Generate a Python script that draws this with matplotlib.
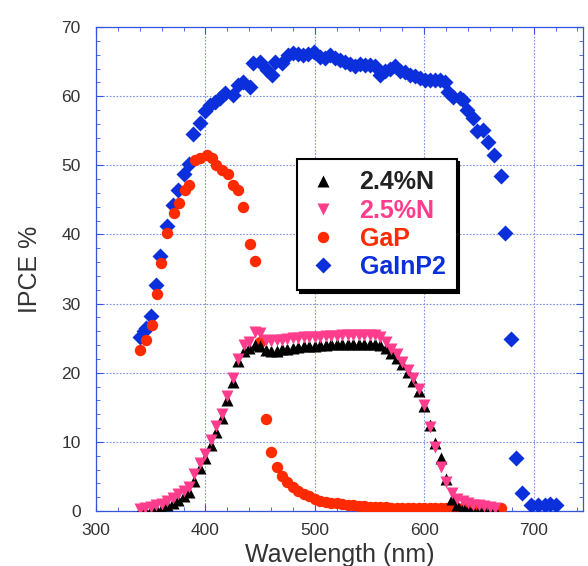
import matplotlib
matplotlib.use("Agg")
import matplotlib.pyplot as plt
from matplotlib.ticker import MultipleLocator

plt.rcParams['font.family'] = ['Liberation Sans', 'DejaVu Sans']

# ---- data ----
wl_n = [340, 345, 350, 355, 360, 365, 370, 375, 380, 385, 390, 395, 400, 405,
        410, 415, 420, 425, 430, 435, 440, 445, 450, 455, 460, 465, 470, 475,
        480, 485, 490, 495, 500, 505, 510, 515, 520, 525, 530, 535, 540, 545,
        550, 555, 560, 565, 570, 575, 580, 585, 590, 595, 600, 605, 610, 615,
        620, 625, 630, 635, 640, 645, 650, 655, 660, 665]
n24 = [0.0, 0.1, 0.2, 0.3, 0.5, 0.8, 1.2, 1.6, 2.1, 2.8, 4.3, 6.2, 7.6, 9.5,
       11.4, 13.5, 16.0, 18.6, 21.7, 23.1, 23.6, 24.0, 23.8, 23.3, 23.1, 23.2, 23.4, 23.5,
       23.6, 23.7, 23.8, 23.9, 23.9, 24.0, 24.0, 24.1, 24.1, 24.1, 24.1, 24.2, 24.2, 24.2,
       24.2, 24.1, 24.0, 23.6, 22.9, 22.2, 21.2, 20.1, 18.8, 17.3, 15.2, 12.5, 9.8, 7.6,
       4.6, 1.8, 0.8, 0.4, 0.3, 0.2, 0.2, 0.1, 0.1, 0.1]
n25 = [0.3, 0.4, 0.6, 0.8, 1.0, 1.4, 1.9, 2.4, 2.9, 3.5, 5.3, 7.0, 8.3, 10.3,
       12.3, 14.0, 16.7, 19.2, 22.0, 24.0, 24.4, 25.9, 25.7, 24.8, 24.6, 24.7, 24.8, 24.9,
       25.0, 25.0, 25.1, 25.1, 25.2, 25.2, 25.3, 25.3, 25.3, 25.4, 25.4, 25.4, 25.4, 25.4,
       25.4, 25.4, 25.1, 24.5, 23.4, 22.7, 21.6, 20.4, 19.2, 17.6, 15.4, 12.2, 9.2, 6.4,
       4.2, 2.6, 1.8, 1.4, 1.1, 0.9, 0.8, 0.7, 0.6, 0.5]

wl_gap = [340, 345.5, 351, 355.5, 359, 365, 371, 376, 381, 385, 390.5, 395, 401,
          405.7, 410, 415, 421, 425.5, 430, 434.6, 440.8, 445.3, 450, 455, 460, 465,
          470, 475, 480, 485, 490, 495, 500, 505, 510, 515, 520, 525, 530, 535, 540,
          545, 550, 555, 560, 565, 570, 575, 580, 585, 590, 595, 600, 605, 610, 615,
          620, 625, 630, 635, 640, 645, 650, 655, 660, 665, 670]
gap = [23.3, 24.7, 26.9, 31.4, 35.8, 40.2, 43.1, 44.6, 46.5, 47.2, 50.8, 51.0, 51.5,
       51.0, 50.0, 49.3, 48.7, 47.2, 46.5, 44.0, 38.6, 36.1, 24.5, 13.3, 8.5, 6.4,
       5.0, 4.2, 3.5, 2.9, 2.4, 2.1, 1.8, 1.5, 1.3, 1.2, 1.1, 1.0, 0.9, 0.8, 0.7,
       0.65, 0.6, 0.6, 0.55, 0.55, 0.5, 0.5, 0.5, 0.5, 0.5, 0.5, 0.5, 0.5, 0.5, 0.5,
       0.5, 0.5, 0.5, 0.5, 0.5, 0.5, 0.5, 0.5, 0.5, 0.5, 0.5]

wl_gainp = [340, 344, 346, 350, 355, 358.5, 365, 370, 375, 380.5, 385, 389, 395,
            399.6, 404, 408.8, 413, 418, 425.5, 430, 434.6, 440.8, 443.8, 450, 456,
            460.6, 463.6, 469.7, 475.8, 480.4, 485, 489.5, 494, 499.3, 504.8, 509.4,
            514, 518.6, 523, 527.7, 532, 537, 541.6, 546, 550.5, 555, 559.6, 564,
            568.7, 573, 578, 582.5, 587, 591.5, 596, 600.5, 605, 609.5, 614.4, 619,
            622, 626.6, 632.7, 635.7, 638.8, 644.8, 648, 654, 658.6, 663.8, 669.9,
            674, 679, 683.6, 689, 698, 704, 710, 715, 720]
gainp = [25.2, 26.0, 26.5, 28.2, 32.7, 36.9, 41.2, 44.3, 46.4, 48.7, 50.2, 54.6, 56.1,
         57.8, 58.7, 59.2, 59.7, 60.5, 60.2, 61.6, 62.1, 61.4, 64.8, 65.0, 63.8,
         63.1, 65.0, 64.8, 66.0, 66.2, 66.1, 66.0, 66.1, 66.4, 65.7, 65.5,
         66.0, 65.5, 65.2, 65.0, 64.7, 64.3, 64.7, 64.5, 64.5, 64.3, 63.1, 63.6,
         64.0, 64.3, 63.7, 63.5, 63.1, 62.9, 62.6, 62.3, 62.3, 62.3, 62.3, 62.1,
         60.6, 59.9, 59.7, 59.4, 58.0, 56.8, 54.9, 55.1, 53.4, 51.5, 48.4,
         40.2, 24.9, 7.6, 2.6, 0.9, 0.9, 0.9, 1.0, 0.9]

labels = ['2.4%N', '2.5%N', 'GaP', 'GaInP2']
colors = ['#000000', '#FF3D8C', '#FF2A00', '#0A2FDB']
text_colors = ['#222222', '#FF3D8C', '#FF2A00', '#0A2FDB']

# ---- figure ----
fig = plt.figure(figsize=(5.88, 5.66), dpi=100)
ax = fig.add_axes([0.1633, 0.0972, 0.828, 0.855])

ax.plot(wl_gainp, gainp, linestyle='none', marker='D', ms=7.8, color=colors[3],
        mec='none', label=labels[3], zorder=3)
ax.plot(wl_gap, gap, linestyle='none', marker='o', ms=8.2, color=colors[2],
        mec='none', label=labels[2], zorder=4)
ax.plot(wl_n, n24, linestyle='none', marker='^', ms=8.5, color=colors[0],
        mec='none', label=labels[0], zorder=5)
ax.plot(wl_n, n25, linestyle='none', marker='v', ms=8.5, color=colors[1],
        mec='none', label=labels[1], zorder=6)

ax.set_xlim(300, 745)
ax.set_ylim(0, 70)
ax.xaxis.set_major_locator(MultipleLocator(100))
ax.xaxis.set_minor_locator(MultipleLocator(20))
ax.yaxis.set_major_locator(MultipleLocator(10))
ax.yaxis.set_minor_locator(MultipleLocator(2))

blue = '#3355DD'
ax.grid(True, which='major', color='#7E8FE8', linestyle=(0, (1.5, 1.5)), linewidth=0.8)
ax.set_axisbelow(True)
for s in ax.spines.values():
    s.set_color(blue)
    s.set_linewidth(0.9)
ax.tick_params(which='both', direction='in', top=True, right=True, color=blue,
               labelcolor='#333333', labelsize=12.5)
ax.tick_params(which='major', length=5)
ax.tick_params(which='minor', length=3)
ax.tick_params(axis='x', which='major', pad=9)
ax.tick_params(axis='y', which='major', pad=11)

ax.set_xlabel('Wavelength (nm)', fontsize=18, color='#333333', labelpad=3)
ax.set_ylabel('IPCE %', fontsize=18, color='#333333', labelpad=14)

handles, labs = ax.get_legend_handles_labels()
order = [labs.index(l) for l in labels]
leg = ax.legend([handles[i] for i in order], [labs[i] for i in order],
                loc='upper left', bbox_to_anchor=(0.413, 0.727),
                frameon=True, fancybox=False, shadow={'color': 'black', 'alpha': 1},
                edgecolor='black', framealpha=1,
                prop={'weight': 'bold', 'size': 18}, handlelength=1.2,
                handletextpad=0.85, labelspacing=0.17, borderpad=0.45,
                borderaxespad=0)
leg.get_frame().set_linewidth(1.5)
for t, c in zip(leg.get_texts(), text_colors):
    t.set_color(c)

fig.savefig('out.png', dpi=100)
